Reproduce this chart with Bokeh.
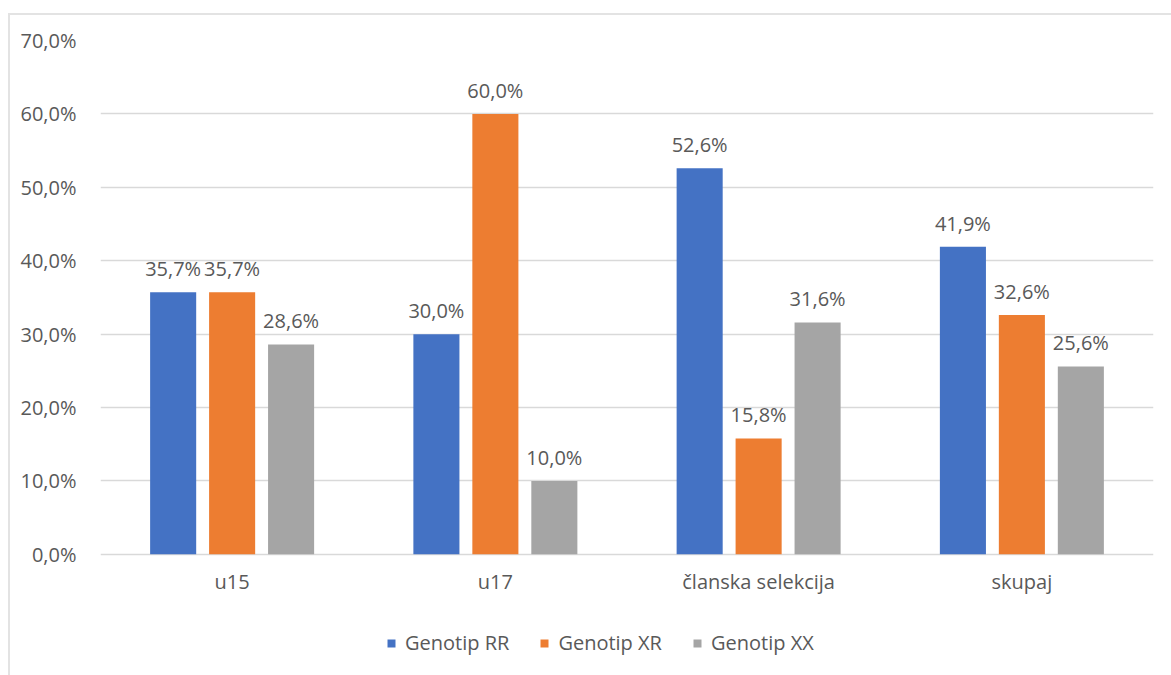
from bokeh.plotting import figure
from bokeh.models import ColumnDataSource, FactorRange, Legend, LegendItem, LabelSet, CustomJSTickFormatter
from bokeh.transform import dodge
from bokeh.core.properties import value
from bokeh.embed import file_html
from bokeh.resources import INLINE

categories = ["u15", "u17", "članska selekcija", "skupaj"]
series_names = ["Genotip RR", "Genotip XR", "Genotip XX"]
rr = [35.7, 30.0, 52.6, 41.9]
xr = [35.7, 60.0, 15.8, 32.6]
xx = [28.6, 10.0, 31.6, 25.6]
colors = ["#4472C4", "#ED7D31", "#A5A5A5"]
y_ticks = [0, 10, 20, 30, 40, 50, 60, 70]

FONT = "Open Sans"
TXT = "#595959"

def fmt(v):
    return ("%.1f" % v).replace(".", ",") + "%"

src = ColumnDataSource(dict(
    cat=categories, rr=rr, xr=xr, xx=xx,
    rr_l=[fmt(v) for v in rr], xr_l=[fmt(v) for v in xr], xx_l=[fmt(v) for v in xx],
))

# frame extends below 0 to leave room for the category labels and the legend
p = figure(x_range=FactorRange(*categories, range_padding=0), y_range=(-16.5, 70),
           frame_width=1053, frame_height=635, output_backend="svg", toolbar_location=None,
           min_border_left=90, min_border_right=18, min_border_top=25, min_border_bottom=0)
p.styles = {"margin-left": "8px", "margin-top": "13px", "border-top": "2px solid #e3e3e3", "border-left": "2px solid #e3e3e3"}
p.outline_line_color = None
p.background_fill_color = "white"
p.border_fill_color = "white"

offsets = [-0.224, 0.0, 0.224]
keys = ["rr", "xr", "xx"]
renderers = []
for k, off, c in zip(keys, offsets, colors):
    r = p.vbar(x=dodge("cat", off, range=p.x_range), top=k, bottom=0, width=0.175, source=src,
               fill_color=c, line_color=None)
    renderers.append(r)
    lbl = LabelSet(x=dodge("cat", off, range=p.x_range), y=k, text=k + "_l", source=src,
                   text_align="center", text_baseline="alphabetic", y_offset=16,
                   text_font=value(FONT), text_font_size="20px", text_color=TXT)
    p.add_layout(lbl)

p.yaxis.ticker = y_ticks
p.yaxis.formatter = CustomJSTickFormatter(code="return tick.toFixed(1).replace('.', ',') + '%';")
for ax in (p.xaxis, p.yaxis):
    ax.axis_line_color = None
    ax.major_tick_line_color = None
    ax.minor_tick_line_color = None
    ax.major_label_text_font = FONT
    ax.major_label_text_font_size = "20px"
    ax.major_label_text_color = TXT
p.xaxis.fixed_location = 0
p.yaxis.major_label_standoff = 18
p.xaxis.major_label_standoff = 8
p.xgrid.grid_line_color = None
p.ygrid.grid_line_color = "#d9d9d9"
p.ygrid.grid_line_width = 1.5

legend = Legend(items=[LegendItem(label=n, renderers=[r]) for n, r in zip(series_names, renderers)],
                orientation="horizontal", location=(286, 19),
                label_text_font=FONT, label_text_font_size="20px", label_text_color=TXT,
                glyph_width=10, glyph_height=10, label_standoff=9, spacing=30,
                border_line_color=None, background_fill_alpha=0, margin=0, padding=0)
p.add_layout(legend)

open("out.html", "w").write(file_html(p, INLINE))
